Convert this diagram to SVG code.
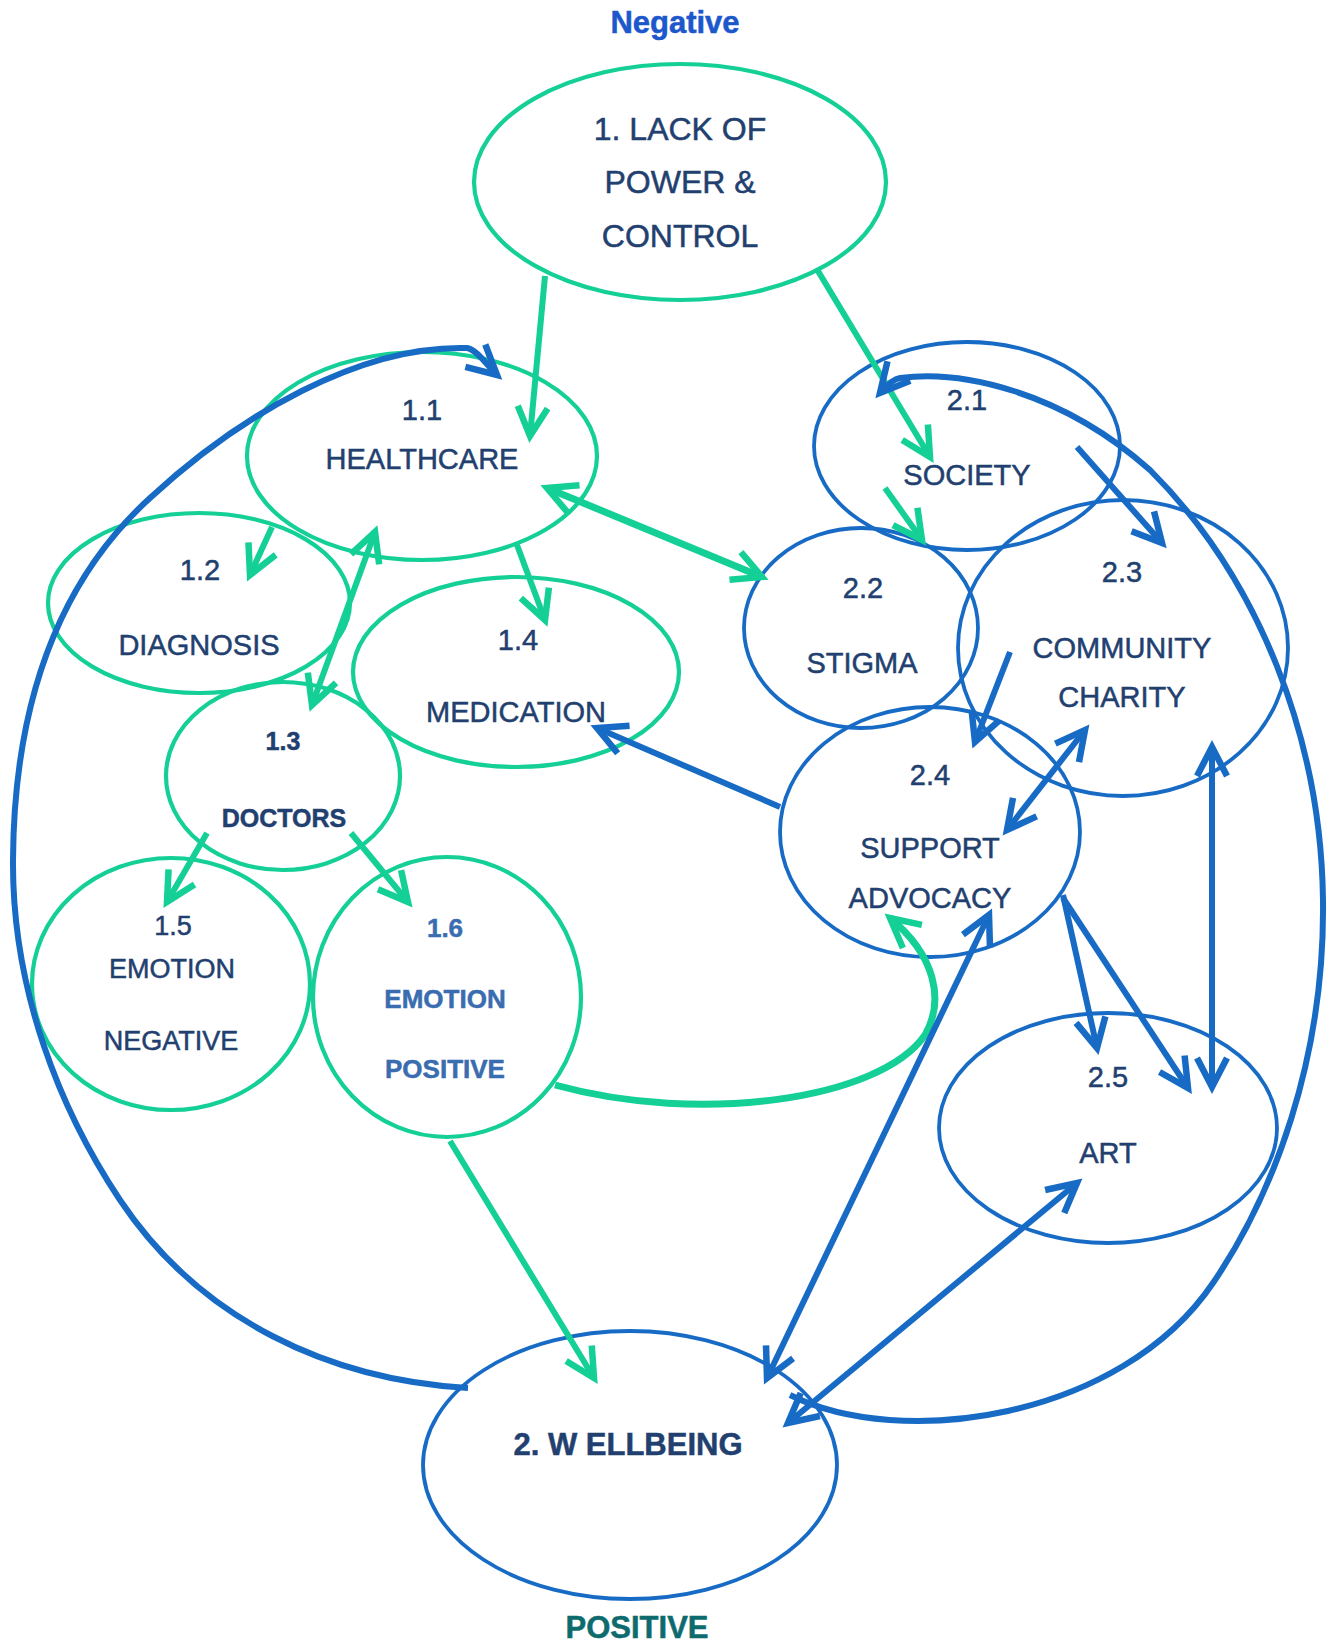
<svg xmlns="http://www.w3.org/2000/svg" width="1338" height="1649" viewBox="0 0 1338 1649">
<defs>
<style>
.eg{fill:none;stroke:#14CF96;stroke-width:4.2}
.eb{fill:none;stroke:#176BC5;stroke-width:3.8}
.cg{fill:none;stroke:#14CF96;stroke-width:6}
.cb{fill:none;stroke:#176BC5;stroke-width:6}
.t{font-family:"Liberation Sans",Arial,sans-serif;font-size:29px;fill:#22406F;stroke:#22406F;stroke-width:0.5;text-anchor:middle}
.tb{font-weight:bold}
.t6{fill:#3A6CB0;stroke:#3A6CB0;font-weight:bold;font-size:26px}
.t5{font-size:27px}
</style>
<marker id="ag" viewBox="-40 -24 50 48" markerWidth="50" markerHeight="48" refX="0" refY="0" orient="auto-start-reverse" markerUnits="userSpaceOnUse">
<path d="M-29,-15 L0,0 L-29,15" fill="none" stroke="#14CF96" stroke-width="6.5"/>
</marker>
<marker id="ab" viewBox="-40 -24 50 48" markerWidth="50" markerHeight="48" refX="0" refY="0" orient="auto-start-reverse" markerUnits="userSpaceOnUse">
<path d="M-29,-15 L0,0 L-29,15" fill="none" stroke="#176BC5" stroke-width="6.5"/>
</marker>
</defs>
<rect width="1338" height="1649" fill="#FFFFFF"/>

<text id="title-negative" x="675" y="33" class="t tb" style="font-size:31px;fill:#1D57CC;stroke:#1D57CC">Negative</text>
<text id="title-positive" x="637" y="1638" class="t tb" style="font-size:31px;fill:#0D6B6E;stroke:#0D6B6E">POSITIVE</text>

<g id="n1">
<ellipse cx="680" cy="182" rx="206" ry="118" class="eg"/>
<text x="680" y="140" class="t" style="font-size:32px">1. LACK OF</text>
<text x="680" y="193" class="t" style="font-size:32px">POWER &amp;</text>
<text x="680" y="247" class="t" style="font-size:32px">CONTROL</text>
</g>
<g id="n1-1">
<ellipse cx="422" cy="456" rx="175" ry="104" class="eg"/>
<text x="422" y="420" class="t">1.1</text>
<text x="422" y="469" class="t">HEALTHCARE</text>
</g>
<g id="n1-2">
<ellipse cx="199" cy="603" rx="151" ry="90" class="eg"/>
<text x="200" y="580" class="t">1.2</text>
<text x="199" y="655" class="t">DIAGNOSIS</text>
</g>
<g id="n1-3">
<ellipse cx="283" cy="776" rx="117" ry="94" class="eg"/>
<text x="283" y="750" class="t tb" style="font-size:25px">1.3</text>
<text x="284" y="827" class="t tb" style="font-size:25px">DOCTORS</text>
</g>
<g id="n1-4">
<ellipse cx="516" cy="672" rx="163" ry="95" class="eg"/>
<text x="518" y="650" class="t">1.4</text>
<text x="516" y="722" class="t">MEDICATION</text>
</g>
<g id="n1-5">
<ellipse cx="171" cy="984" rx="139" ry="126" class="eg"/>
<text x="173" y="935" class="t t5">1.5</text>
<text x="172" y="978" class="t t5">EMOTION</text>
<text x="171" y="1050" class="t t5">NEGATIVE</text>
</g>
<g id="n1-6">
<ellipse cx="447" cy="997" rx="134" ry="140" class="eg"/>
<text x="445" y="937" class="t t6">1.6</text>
<text x="445" y="1008" class="t t6">EMOTION</text>
<text x="445" y="1078" class="t t6">POSITIVE</text>
</g>
<g id="n2-1">
<ellipse cx="967" cy="446" rx="153" ry="104" class="eb"/>
<text x="967" y="410" class="t">2.1</text>
<text x="967" y="485" class="t">SOCIETY</text>
</g>
<g id="n2-2">
<ellipse cx="861" cy="628" rx="117" ry="100" class="eb"/>
<text x="863" y="598" class="t">2.2</text>
<text x="862" y="673" class="t">STIGMA</text>
</g>
<g id="n2-3">
<ellipse cx="1123" cy="648" rx="165" ry="148" class="eb"/>
<text x="1122" y="582" class="t">2.3</text>
<text x="1122" y="658" class="t">COMMUNITY</text>
<text x="1122" y="707" class="t">CHARITY</text>
</g>
<g id="n2-4">
<ellipse cx="930" cy="832" rx="150" ry="125" class="eb"/>
<text x="930" y="785" class="t">2.4</text>
<text x="930" y="858" class="t">SUPPORT</text>
<text x="930" y="908" class="t">ADVOCACY</text>
</g>
<g id="n2-5">
<ellipse cx="1108" cy="1128" rx="169" ry="115" class="eb"/>
<text x="1108" y="1087" class="t">2.5</text>
<text x="1108" y="1163" class="t">ART</text>
</g>
<g id="n2">
<ellipse cx="630" cy="1465" rx="207" ry="134" class="eb"/>
<text x="628" y="1455" class="t tb" style="font-size:31px">2. W ELLBEING</text>
</g>

<g id="connectors">
<path class="cg" d="M545,276 L530,436" marker-end="url(#ag)"/>
<path class="cg" d="M818,271 L930,457" marker-end="url(#ag)"/>
<path class="cg" d="M885,488 L922,540" marker-end="url(#ag)"/>
<path class="cg" style="stroke-width:7" d="M547,488 L762,577" marker-start="url(#ag)" marker-end="url(#ag)"/>
<path class="cg" d="M272,527 L250,575" marker-end="url(#ag)"/>
<path class="cg" d="M375,532 L312,705" marker-start="url(#ag)" marker-end="url(#ag)"/>
<path class="cg" d="M517,545 L545,620" marker-end="url(#ag)"/>
<path class="cg" d="M207,833 L167,902" marker-end="url(#ag)"/>
<path class="cg" d="M351,833 L408,902" marker-end="url(#ag)"/>
<path class="cg" d="M450,1141 L594,1378" marker-end="url(#ag)"/>
<path class="cg" style="stroke-width:7" d="M555,1085 C700,1125 880,1100 925,1035 C945,1000 935,955 890,918" marker-end="url(#ag)"/>

<path class="cb" d="M468,1388 C330,1380 200,1320 120,1200 C60,1110 12,990 13,860 C14,700 60,580 150,498 C240,415 360,345 467,348 C478,350 488,367 497,375" marker-end="url(#ab)"/>
<path class="cb" d="M790,1395 C900,1450 1120,1420 1213,1283 C1273,1195 1325,1060 1323,900 C1321,740 1260,580 1150,470 C1060,390 960,370 900,378 C893,379 886,386 880,393" marker-end="url(#ab)"/>
<path class="cb" d="M1077,447 L1162,543" marker-end="url(#ab)"/>
<path class="cb" d="M1010,652 L975,742" marker-end="url(#ab)"/>
<path class="cb" d="M1085,730 L1007,830" marker-start="url(#ab)" marker-end="url(#ab)"/>
<path class="cb" d="M780,807 L597,728" marker-end="url(#ab)"/>
<path class="cb" d="M989,915 L767,1378" marker-start="url(#ab)" marker-end="url(#ab)"/>
<path class="cb" d="M1063,895 L1097,1048" marker-end="url(#ab)"/>
<path class="cb" d="M1063,898 L1188,1088" marker-end="url(#ab)"/>
<path class="cb" d="M1212,747 L1212,1087" marker-start="url(#ab)" marker-end="url(#ab)"/>
<path class="cb" d="M1077,1183 L788,1423" marker-start="url(#ab)" marker-end="url(#ab)"/>
</g>
</svg>
